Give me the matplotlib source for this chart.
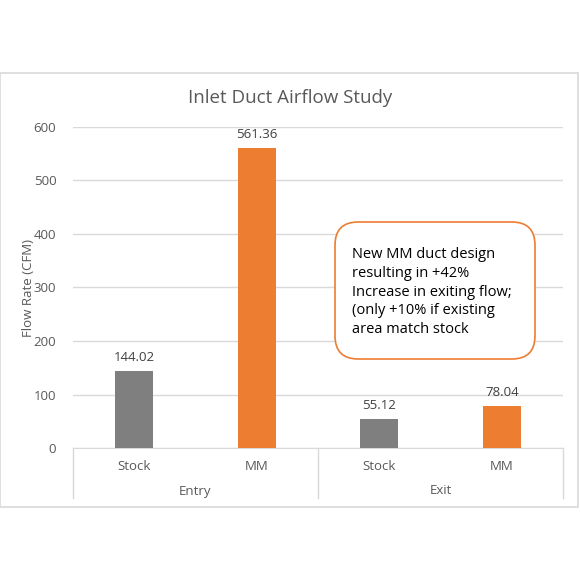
import matplotlib
matplotlib.use("Agg")
import matplotlib.pyplot as plt
from matplotlib.patches import Rectangle, FancyBboxPatch
import matplotlib.transforms as mtrans

plt.rcParams['font.family'] = ['Open Sans', 'DejaVu Sans']

categories = ["Stock", "MM", "Stock", "MM"]
groups = ["Entry", "Exit"]
values = [144.02, 561.36, 55.12, 78.04]
value_labels = ["144.02", "561.36", "55.12", "78.04"]
yticks = [0, 100, 200, 300, 400, 500, 600]
title = "Inlet Duct Airflow Study"
ylabel = "Flow Rate (CFM)"
note = "New MM duct design\nresulting in +42%\nIncrease in exiting flow;\n(only +10% if existing\narea match stock"

colors = ["#7f7f7f", "#ed7d31", "#7f7f7f", "#ed7d31"]
W = H = 580
fig = plt.figure(figsize=(5.8, 5.8), dpi=100)

# outer border
fig.patches.append(Rectangle((0 / W, 1 - 507 / H), 578 / W, (507 - 73) / H,
                             transform=fig.transFigure, fill=False,
                             edgecolor="#d9d9d9", linewidth=1.2))

ax = fig.add_axes([73 / W, 1 - 448 / H, 490 / W, 321 / H])
x = list(range(len(categories)))
ax.bar(x, values, width=0.31, color=colors, zorder=3)
ax.set_xlim(-0.5, len(categories) - 0.5)
ax.set_ylim(0, 600)
ax.set_yticks(yticks)
ax.yaxis.grid(True, color="#d9d9d9", linewidth=1.0, zorder=0)
for s in ["top", "right", "left"]:
    ax.spines[s].set_visible(False)
ax.spines["bottom"].set_color("#d9d9d9")
ax.tick_params(axis="y", length=0, labelsize=9.5, labelcolor="#595959", pad=12)
ax.tick_params(axis="x", length=0, labelsize=9.5, labelcolor="#595959", pad=9)
ax.set_xticks(x)
ax.set_xticklabels(categories)

fig.text(28 / W, 1 - 288 / H, ylabel, rotation=90, ha="center", va="center",
         fontsize=9.5, color="#595959")

for xi, v, lab in zip(x, values, value_labels):
    ax.annotate(lab, (xi, v), xytext=(0, 5), textcoords="offset points",
                ha="center", va="bottom", fontsize=9.5, color="#404040")

# category group axis
tr = mtrans.blended_transform_factory(ax.transData, ax.transAxes)
depth = 50 / 321
for bx in [-0.5, 1.5, 3.5]:
    ax.plot([bx, bx], [0, -depth], transform=tr, color="#d9d9d9",
            linewidth=1.0, clip_on=False)
for gi, g in enumerate(groups):
    ax.text(gi * 2 + 0.5, -43 / 321, g, transform=tr, ha="center",
            va="center", fontsize=9.5, color="#595959")

fig.text(0.5, 1 - 98 / H, title, ha="center", va="center", fontsize=13.5,
         color="#595959")

# annotation box
bx0, by0, bw, bh = 335, 222, 200, 137
box = FancyBboxPatch((bx0 / W, 1 - (by0 + bh) / H), bw / W, bh / H,
                     boxstyle="round,pad=0,rounding_size=0.04",
                     transform=fig.transFigure, facecolor="white",
                     edgecolor="#ed7d31", linewidth=1.2, zorder=10)
fig.patches.append(box)
fig.text(352 / W, 1 - 292 / H, note, ha="left", va="center", fontsize=10.5,
         color="#000000", linespacing=1.35, zorder=11)

fig.savefig("out.png", dpi=100, facecolor="white")
